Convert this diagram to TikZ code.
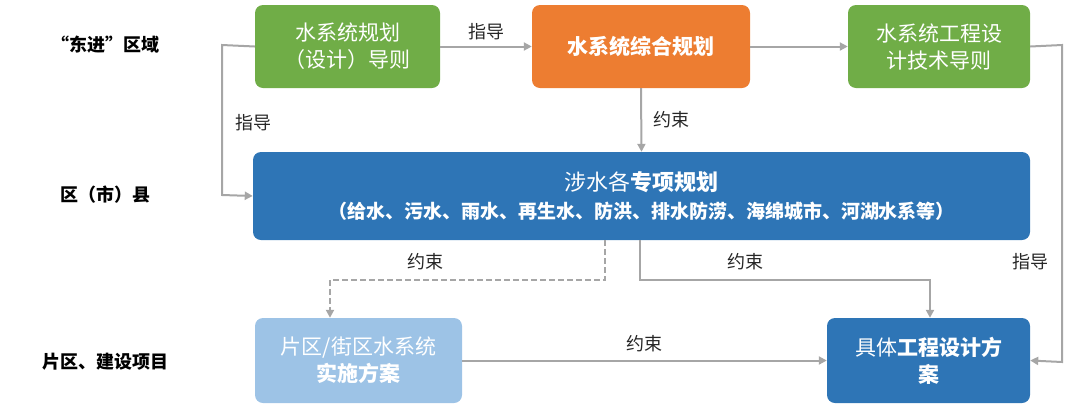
\documentclass[tikz,border=0pt]{standalone}
\usepackage{fontspec}
\setmainfont{Noto Sans CJK SC}
\usetikzlibrary{arrows.meta}
\definecolor{gr}{HTML}{70AD47}
\definecolor{og}{HTML}{ED7D31}
\definecolor{bl}{HTML}{2E75B6}
\definecolor{lb}{HTML}{9DC3E6}
\definecolor{ln}{HTML}{A6A6A6}
\begin{document}
\begin{tikzpicture}[x=1pt,y=-1pt,
 box/.style={rounded corners=8pt,text=white,align=center,inner sep=0pt,font=\fontsize{21}{27}\selectfont},
 lab/.style={font=\fontsize{18}{22}\selectfont,text=black!85},
 side/.style={font=\fontsize{18}{22}\selectfont\bfseries},
 con/.style={draw=ln,line width=2pt,-{Triangle[length=8pt,width=8pt]}}]
\useasboundingbox (0,0) rectangle (1080,408);
\node[box,fill=gr,minimum width=185pt,minimum height=83pt] (g1) at (347.5,46.5) {水系统规划\\（设计）导则};
\node[box,fill=og,minimum width=218pt,minimum height=83pt,font=\fontsize{21}{27}\selectfont\bfseries] (o) at (641,46.5) {水系统综合规划};
\node[box,fill=gr,minimum width=182pt,minimum height=83pt] (g3) at (939,46.5) {水系统工程设\\计技术导则};
\node[box,fill=bl,minimum width=777pt,minimum height=88pt,font=\fontsize{22}{28}\selectfont] (b) at (641.5,196) {涉水各\textbf{专项规划}\\{\fontsize{19}{26}\selectfont\bfseries（给水、污水、雨水、再生水、防洪、排水防涝、海绵城市、河湖水系等）}};
\node[box,fill=lb,minimum width=207pt,minimum height=85pt] (l) at (358.5,360.5) {片区/街区水系统\\\textbf{实施方案}};
\node[box,fill=bl,minimum width=203pt,minimum height=85pt] (b2) at (928.5,360.5) {具体\textbf{工程设计方}\\\textbf{案}};
\node[side] (s1) at (105,45) {“东进”区域};
\node[side] (s2) at (105,195) {区（市）县};
\node[side] (s3) at (105,362) {片区、建设项目};
\coordinate (a1) at (222,45); \coordinate (a2) at (222,195);
\coordinate (r1) at (1062,45); \coordinate (r2) at (1062,362);
\coordinate (d1) at (605,280); \coordinate (d2) at (330,280);
\coordinate (e1) at (640,280); \coordinate (e2) at (930,280);
\draw[con] (g1.east) -- (o.west) node[lab,midway,above=2pt] {指导};
\draw[con] (o.east) -- (g3.west);
\draw[con] (o.south) -- (b.north) node[lab,midway,right=8pt] {约束};
\draw[con] (g1.west) -- (a1) -- (a2) -- (b.west);
\node[lab] at (253,123) {指导};
\draw[con] (g3.east) -- (r1) -- (r2) -- (b2.east);
\node[lab] at (1030,262) {指导};
\draw[con,dash pattern=on 6pt off 3pt] (b.south -| d1) -- (d1) -- (d2) -- (l.north -| d2);
\node[lab] at (425,262) {约束};
\draw[con] (b.south -| e1) -- (e1) -- (e2) -- (b2.north -| e2);
\node[lab] at (745,262) {约束};
\draw[con] (l.east) -- (b2.west) node[lab,midway,above=4pt] {约束};
\end{tikzpicture}
\end{document}
